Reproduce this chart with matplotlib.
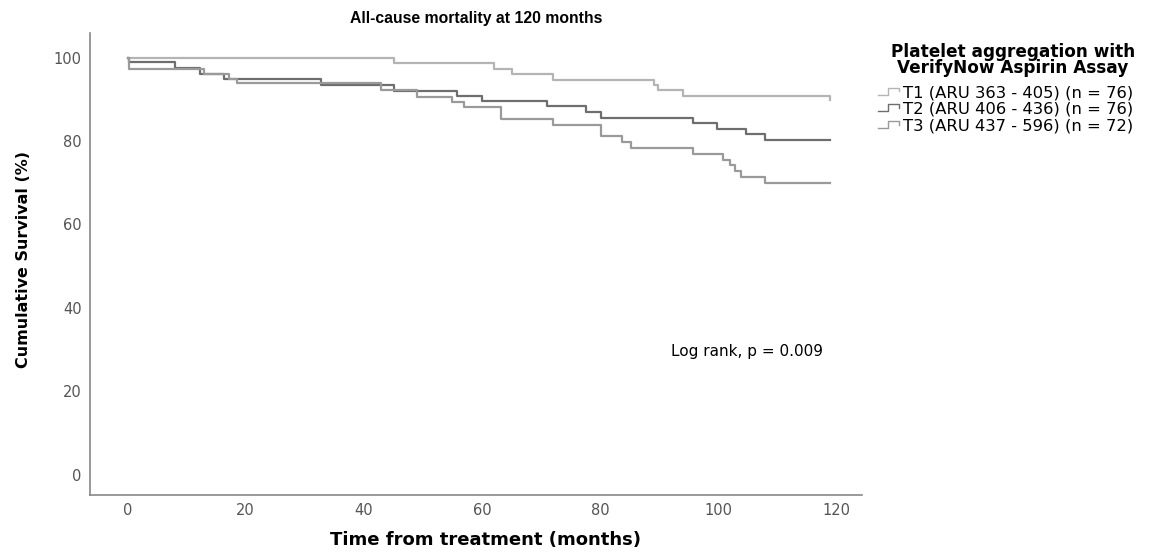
import matplotlib
matplotlib.use("Agg")
import matplotlib.pyplot as plt
from matplotlib.lines import Line2D
from matplotlib.legend_handler import HandlerBase

# ---- data ----
t1_time = [0, 45.1, 62.0, 65.1, 72.0, 89.1, 89.9, 94.1, 119.0]
t1_surv = [100, 98.7, 97.4, 96.1, 94.7, 93.5, 92.2, 90.8, 89.9]

t2_time = [0, 0.3, 8.1, 12.2, 16.4, 32.8, 45.1, 55.8, 60.0, 71.0, 77.7, 80.1,
           95.8, 99.9, 104.8, 108.0, 119.0]
t2_surv = [100, 98.9, 97.5, 96.2, 94.9, 93.4, 92.0, 90.8, 89.6, 88.4, 87.0, 85.6,
           84.3, 83.0, 81.6, 80.3, 80.3]

t3_time = [0, 0.3, 13.0, 17.2, 18.6, 42.9, 49.0, 54.9, 57.0, 63.2, 72.0, 80.1,
           83.7, 85.2, 95.8, 100.9, 102.1, 102.9, 103.9, 108.0, 119.0]
t3_surv = [100, 97.4, 96.2, 94.9, 93.9, 92.2, 90.6, 89.4, 88.1, 85.3, 83.9, 81.2,
           79.9, 78.3, 76.9, 75.5, 74.2, 72.9, 71.5, 69.9, 69.9]

labels = ["T1 (ARU 363 - 405) (n = 76)",
          "T2 (ARU 406 - 436) (n = 76)",
          "T3 (ARU 437 - 596) (n = 72)"]
legend_title = "Platelet aggregation with\nVerifyNow Aspirin Assay"
colors = ["#b4b4b4", "#6e6e6e", "#9a9a9a"]
x_ticks = [0, 20, 40, 60, 80, 100, 120]
y_ticks = [0, 20, 40, 60, 80, 100]

plt.rcParams['font.family'] = ['DejaVu Sans']

fig = plt.figure(figsize=(11.51, 5.53), dpi=100)
ax = fig.add_axes([0.078, 0.105, 0.671, 0.835])

lines = []
for tt, ss, c, lab in zip([t1_time, t2_time, t3_time],
                          [t1_surv, t2_surv, t3_surv], colors, labels):
    ln, = ax.step(tt, ss, where='post', color=c, lw=1.6, label=lab)
    lines.append(ln)

ax.set_xlim(-6.4, 124.4)
ax.set_ylim(-4.9, 105.9)
ax.set_xticks(x_ticks)
ax.set_yticks(y_ticks)
ax.tick_params(length=0, labelsize=10.5, colors="#555555")
ax.tick_params(axis='x', pad=6)
ax.tick_params(axis='y', pad=6)
for s in ['top', 'right']:
    ax.spines[s].set_visible(False)
for s in ['left', 'bottom']:
    ax.spines[s].set_color("#888888")
    ax.spines[s].set_linewidth(1.2)

ax.set_title("All-cause mortality at 120 months", fontsize=11.3, fontweight='bold',
             pad=7, family=['Liberation Sans', 'DejaVu Sans'])
ax.set_xlabel("Time from treatment (months)", fontsize=13, fontweight='bold')
ax.xaxis.set_label_coords(0.512, -0.078)
ax.set_ylabel("Cumulative Survival (%)", fontsize=11.5, fontweight='bold')
ax.yaxis.set_label_coords(-0.076, 0.509)

ax.text(104.9, 29.4, "Log rank, p = 0.009", fontsize=11, ha='center', va='center')


class StepHandler(HandlerBase):
    def create_artists(self, legend, orig_handle, xdescent, ydescent,
                       width, height, fontsize, trans):
        w, h = width, height
        xs = [0, 0.45 * w, 0.45 * w, w, w]
        ys = [0.2 * h, 0.2 * h, 0.8 * h, 0.8 * h, 0.5 * h]
        ln = Line2D([x - xdescent for x in xs], [y - ydescent for y in ys],
                    color=orig_handle.get_color(), lw=1.0, transform=trans)
        return [ln]


fig.text(1013 / 1151, 1 - 60 / 553, legend_title, fontsize=12.2, fontweight='bold',
         ha='center', va='center', multialignment='center', linespacing=0.85)

leg = fig.legend(handles=lines, labels=labels, loc='upper left',
                 bbox_to_anchor=(878 / 1151, 1 - 85 / 553), frameon=False,
                 fontsize=11.8, handlelength=1.3, handletextpad=0.2,
                 labelspacing=0.1, borderpad=0.0, borderaxespad=0.0,
                 handler_map={Line2D: StepHandler()})

fig.savefig("out.png", dpi=100)
